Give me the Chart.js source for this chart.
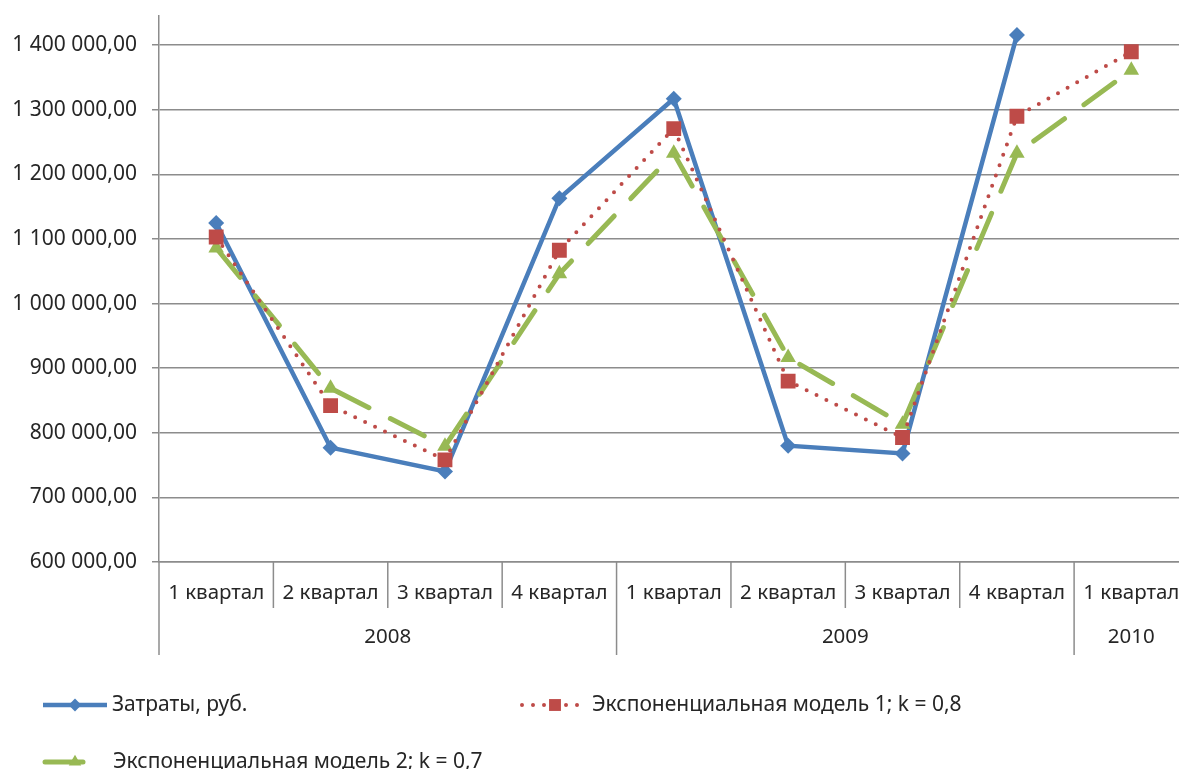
<!DOCTYPE html>
<html lang="ru">
<head>
<meta charset="utf-8">
<title>Затраты и экспоненциальные модели</title>
<script src="https://cdn.jsdelivr.net/npm/chart.js@4.4.1/dist/chart.umd.min.js"></script>
<style>
  html, body { margin: 0; padding: 0; background: #fff; overflow: hidden; }
  #wrap { width: 1199px; height: 769px; }
</style>
</head>
<body>
<div id="wrap"><canvas id="chart"></canvas></div>
<script>
// data
const quarters = ['1 квартал', '2 квартал', '3 квартал', '4 квартал', '1 квартал', '2 квартал', '3 квартал', '4 квартал', '1 квартал']
const years = ['2008', '2009', '2010']
const yearSpans = [4, 4, 1]
const costs = [1124800, 777000, 740000, 1162800, 1317000, 780000, 768000, 1415500, null]
const model1 = [1103000, 842000, 758000, 1082500, 1270700, 880000, 792700, 1289800, 1389600]
const model2 = [1086000, 869000, 779000, 1046000, 1232500, 916500, 813000, 1232500, 1361000]
const seriesNames = ['Затраты, руб.', 'Экспоненциальная модель 1; k = 0,8', 'Экспоненциальная модель 2; k = 0,7']
const yTickValues = [600000, 700000, 800000, 900000, 1000000, 1100000, 1200000, 1300000, 1400000]
const yMin = 600000
const yMax = 1445000

const FONT = '"Noto Sans", sans-serif'
const TEXT = '#262626'
const GRID = '#8c8c8c'
const BLUE = '#4A7EBB'
const RED = '#BE4B48'
const GREEN = '#98B954'

// "1 400 000,00"
const formatTick = (v) => {
    const s = Math.round(v).toString().replace(/\B(?=(\d{3})+(?!\d))/g, ' ')
    return s + ',00'
}

// two-level category axis: separators and year labels
const axisGroups = {
    id: 'axisGroups',
    afterDraw(chart) {
        const { ctx, chartArea, scales } = chart
        const x = scales.x
        const half = (x.getPixelForValue(1) - x.getPixelForValue(0)) / 2
        const top = chartArea.bottom
        ctx.save()
        ctx.strokeStyle = GRID
        ctx.lineWidth = 1.5
        // y axis line goes on down through the label rows
        ctx.beginPath()
        ctx.moveTo(chartArea.left, top)
        ctx.lineTo(chartArea.left, top + 93)
        ctx.stroke()
        let idx = 0
        years.forEach((year, g) => {
            const start = idx
            const end = idx + yearSpans[g] - 1
            for (let i = start + 1; i <= end; i++) {
                const bx = x.getPixelForValue(i) - half
                ctx.beginPath()
                ctx.moveTo(bx, top)
                ctx.lineTo(bx, top + 46)
                ctx.stroke()
            }
            const rightEdge = x.getPixelForValue(end) + half
            ctx.beginPath()
            ctx.moveTo(rightEdge, top)
            ctx.lineTo(rightEdge, top + 93)
            ctx.stroke()
            const mid = (x.getPixelForValue(start) + x.getPixelForValue(end)) / 2
            ctx.fillStyle = TEXT
            ctx.font = `20.5px ${FONT}`
            ctx.textAlign = 'center'
            ctx.textBaseline = 'middle'
            ctx.fillText(year, mid, top + 75)
            idx = end + 1
        })
        ctx.restore()
    }
}

// legend laid out like the original
const legendBlock = {
    id: 'legendBlock',
    afterDraw(chart) {
        const { ctx } = chart
        const items = [
            { ds: 0, x0: 43, x1: 107, cx: 75, y: 705, tx: 112 },
            { ds: 1, x0: 522, x1: 588, cx: 555, y: 705, tx: 592 },
            { ds: 2, x0: 45, x1: 105, cx: 75, y: 762, tx: 113 }
        ]
        ctx.save()
        items.forEach((it) => {
            const ds = chart.data.datasets[it.ds]
            ctx.strokeStyle = ds.borderColor
            ctx.lineWidth = ds.borderWidth
            ctx.lineCap = ds.borderCapStyle || 'butt'
            ctx.setLineDash(ds.borderDash || [])
            ctx.beginPath()
            ctx.moveTo(it.x0, it.y)
            ctx.lineTo(it.x1, it.y)
            ctx.stroke()
            ctx.setLineDash([])
            ctx.fillStyle = ds.backgroundColor
            Chart.helpers.drawPoint(ctx, {
                pointStyle: ds.pointStyle,
                radius: ds.pointRadius * 0.8,
                rotation: 0,
                borderWidth: 0
            }, it.cx, it.y)
            ctx.fillStyle = TEXT
            ctx.font = `21px ${FONT}`
            ctx.textAlign = 'left'
            ctx.textBaseline = 'middle'
            ctx.fillText(ds.label, it.tx, it.y)
        })
        ctx.restore()
    }
}

const ctx = document.getElementById('chart')

const chart = new Chart(ctx, {
    type: 'line',
    data: {
        labels: quarters,
        datasets: [{
            label: seriesNames[0],
            data: costs,
            borderColor: BLUE,
            backgroundColor: BLUE,
            borderWidth: 4.5,
            pointStyle: 'rectRot',
            pointRadius: 8,
            pointBorderWidth: 0,
            order: 2
        }, {
            label: seriesNames[1],
            data: model1,
            borderColor: RED,
            backgroundColor: RED,
            borderWidth: 4,
            borderDash: [0, 11],
            borderCapStyle: 'round',
            pointStyle: 'rect',
            pointRadius: 10.5,
            pointBorderWidth: 0,
            order: 0
        }, {
            label: seriesNames[2],
            data: model2,
            borderColor: GREEN,
            backgroundColor: GREEN,
            borderWidth: 5,
            borderDash: [38, 24],
            borderCapStyle: 'round',
            pointStyle: 'triangle',
            pointRadius: 9,
            pointBorderWidth: 0,
            order: 1
        }]
    },
    options: {
        responsive: true,
        maintainAspectRatio: false,
        animation: false,
        layout: { padding: { top: 16, right: 4, bottom: 114, left: 0 } },
        plugins: {
            legend: { display: false },
            tooltip: { enabled: false }
        },
        scales: {
            x: {
                offset: true,
                grid: { display: false, drawTicks: false },
                border: { display: true, color: GRID, width: 1.5 },
                ticks: {
                    color: TEXT,
                    font: { family: FONT, size: 20.5 },
                    padding: 19,
                    maxRotation: 0,
                    autoSkip: false
                },
                afterFit(scale) {
                    scale.height = 93
                    scale.paddingLeft = 0
                    scale.paddingRight = 0
                }
            },
            y: {
                min: yMin,
                max: yMax,
                grid: { color: GRID, lineWidth: 1.5, tickLength: 7 },
                border: { display: true, color: GRID, width: 1.5 },
                ticks: {
                    color: TEXT,
                    font: { family: FONT, size: 21 },
                    padding: 15,
                    autoSkip: false,
                    callback: formatTick
                },
                afterBuildTicks(scale) {
                    scale.ticks = yTickValues.map((v) => ({ value: v }))
                },
                afterFit(scale) {
                    scale.width = 159
                    scale.paddingTop = 0
                    scale.paddingBottom = 0
                }
            }
        }
    },
    plugins: [axisGroups, legendBlock]
})
</script>
</body>
</html>
